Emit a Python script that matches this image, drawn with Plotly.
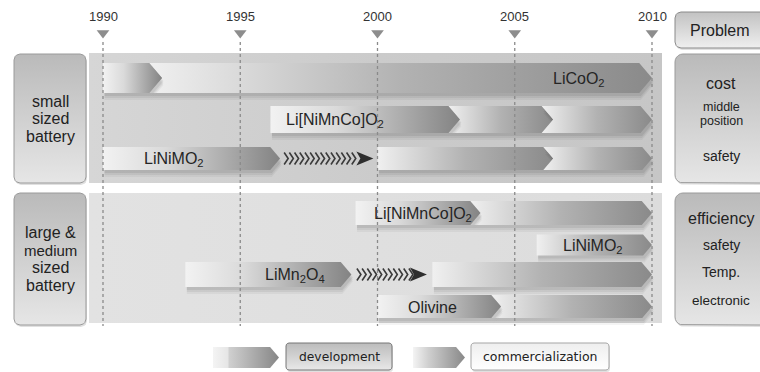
import numpy as np
import plotly.graph_objects as go

# ---------------- data ----------------
years = [1990, 1995, 2000, 2005, 2010]
groups = ["small\nsized\nbattery", "large &\nmedium\nsized\nbattery"]
materials = ["LiCoO<sub>2</sub>", "Li[NiMnCo]O<sub>2</sub>", "LiNiMO<sub>2</sub>",
             "Li[NiMnCo]O<sub>2</sub>", "LiNiMO<sub>2</sub>", "LiMn<sub>2</sub>O<sub>4</sub>", "Olivine"]
row_group = [0, 0, 0, 1, 1, 1, 1]
dev_start = [1990.0, 1996.1, 1990.0, 1999.2, None, 1993.0, 2000.0]
dev_end = [1992.15, 2003.0, 1996.45, 2003.75, None, 1999.05, 2004.5]
transfer_start = [None, None, 1996.6, None, None, 1999.25, None]
transfer_end = [None, None, 1999.85, None, None, 2001.8, None]
comm_start = [1992.15, 2003.0, 2000.0, 2003.75, 2005.8, 2002.0, 2004.5]
comm_breaks = [[], [2006.4], [2006.4], [], [], [], []]
comm_end = 2010.0
problems = [["cost", "middle\nposition", "safety"],
            ["efficiency", "safety", "Temp.", "electronic"]]
legend_labels = ["development", "commercialization"]

# ---------------- layout constants (pixels) ----------------
W, H = 760, 372
PX_1990, PX_PER_YEAR = 103.0, 27.45
row_y = [78, 119.5, 158.5, 213, 245, 274.5, 306.5]
row_h = [15, 13.5, 11.5, 12, 10.5, 12.5, 11.5]
label_x = [2007.34, 1998.45, 1992.6, 2001.65, 2007.85, 1997.0, 2002.0]
panel_y = [(53, 183), (193, 323)]
side_y = [(54, 183), (193, 325)]
problem_y = [[83, 114, 156], [218, 245, 272, 300]]
problem_size = [[16, 12.5, 14], [16, 14, 14, 13.5]]


def X(px):
    return 1990 + (px - PX_1990) / PX_PER_YEAR


def D(px):
    return px / PX_PER_YEAR


FONT = "Liberation Sans, Arial, sans-serif"
DEV_SCALE = [[0, "#f2f2f2"], [0.35, "#dadada"], [1, "#838383"]]
COMM_SCALE = [[0, "#f0f0f0"], [0.5, "#b2b2b2"], [1, "#8a8a8a"]]

fig = go.Figure()


def poly(xs, ys, color=None, scale=None, direction="horizontal", line=None):
    kw = dict(x=list(xs), y=list(ys), mode="lines", fill="toself",
              hoverinfo="skip", showlegend=False,
              line=line or dict(width=0, color="rgba(0,0,0,0)"))
    if scale is not None:
        kw["fillgradient"] = dict(type=direction, colorscale=scale)
        kw["fillcolor"] = scale[-1][1]
    else:
        kw["fillcolor"] = color
    fig.add_trace(go.Scatter(**kw))


def arrow_pts(x0, x1, yc, h, notch):
    d = D(h * 0.85)
    xs = [x0, x1 - d, x1, x1 - d, x0, x0 + (d if notch else 0), x0]
    ys = [yc - h, yc - h, yc, yc + h, yc + h, yc, yc - h]
    return xs, ys


def arrow(x0, x1, yc, h, scale, notch=False, shadow=True):
    xs, ys = arrow_pts(x0, x1, yc, h, notch)
    if shadow:
        for k, a in [(7, 0.05), (5, 0.07), (3, 0.09)]:
            poly([x + D(1.5) for x in xs], [y + k for y in ys], color=f"rgba(40,40,40,{a})")
    poly(xs, ys, scale=scale)


def rounded(px0, px1, y0, y1, r=6, n=6):
    xs, ys = [], []
    corners = [(px1 - r, y0 + r, -90, 0), (px1 - r, y1 - r, 0, 90),
               (px0 + r, y1 - r, 90, 180), (px0 + r, y0 + r, 180, 270)]
    for cx, cy, a0, a1 in corners:
        for t in np.linspace(np.radians(a0), np.radians(a1), n):
            xs.append(X(cx + r * np.cos(t)))
            ys.append(cy + r * np.sin(t))
    xs.append(xs[0])
    ys.append(ys[0])
    return xs, ys


def box(px0, px1, y0, y1, scale, border, r=6, shadow=True):
    if shadow:
        xs, ys = rounded(px0 + 1, px1 + 1, y0 + 2, y1 + 2, r)
        poly(xs, ys, color="rgba(0,0,0,0.12)")
    xs, ys = rounded(px0, px1, y0, y1, r)
    poly(xs, ys, scale=scale, direction="vertical", line=dict(width=1, color=border))


def text(x, y, s, size=14, color="#222", font=FONT):
    fig.add_annotation(x=x, y=y, xref="x", yref="y", text=s, showarrow=False,
                       font=dict(family=font, size=size, color=color),
                       xanchor="center", yanchor="middle")


# panels
poly([X(89), X(662), X(662), X(89), X(89)],
     [panel_y[0][0], panel_y[0][0], panel_y[0][1], panel_y[0][1], panel_y[0][0]],
     scale=[[0, "#d6d6d6"], [0.5, "#cbcbcb"], [1, "#c6c6c6"]])
poly([X(89), X(662), X(662), X(89), X(89)],
     [panel_y[1][0], panel_y[1][0], panel_y[1][1], panel_y[1][1], panel_y[1][0]],
     scale=[[0, "#e2e2e2"], [1, "#dcdcdc"]])

# side boxes
SIDE_SCALE = [[0, "#e6e6e6"], [1, "#bababa"]]
for gi, (y0, y1) in enumerate(side_y):
    box(14, 86, y0, y1, SIDE_SCALE, "#9a9a9a")
    box(675, 768, y0, y1, SIDE_SCALE, "#9a9a9a", r=8)
    lines = groups[gi].split("\n")
    lh = 17.5
    top = (y0 + y1) / 2 - lh * (len(lines) - 1) / 2
    for k, ln in enumerate(lines):
        sz = 15 if ln == "medium" else 16
        text(X(50), top + k * lh, ln, size=sz)
    for k, p in enumerate(problems[gi]):
        parts = p.split("\n")
        for j, part in enumerate(parts):
            yy = problem_y[gi][k] + (j - (len(parts) - 1) / 2) * 14
            text(X(721), yy, part, size=problem_size[gi][k])
box(675, 768, 12, 48, [[0, "#efefef"], [1, "#c2c2c2"]], "#8a8a8a")
text(X(719.5), 30, "Problem", size=16)

# bars
for i in range(len(materials)):
    yc, h = row_y[i], row_h[i]
    segs = [comm_start[i]] + comm_breaks[i] + [comm_end]
    for j in range(len(segs) - 1):
        notch = j > 0 or (dev_end[i] is not None and abs(comm_start[i] - dev_end[i]) < 1e-6)
        x0 = segs[j] - (D(h * 0.85) if notch else 0)
        arrow(x0, segs[j + 1], yc, h, COMM_SCALE, notch=notch)
    if dev_start[i] is not None:
        arrow(dev_start[i], dev_end[i], yc, h, DEV_SCALE)
    if transfer_start[i] is not None:
        a, b = transfer_start[i], transfer_end[i]
        head = D(17)
        cx, cy = [], []
        for x in np.arange(a, b - head, D(5.2)):
            cx += [x, x + D(4), x, None]
            cy += [yc - 6, yc, yc + 6, None]
        fig.add_trace(go.Scatter(x=cx, y=cy, mode="lines", hoverinfo="skip", showlegend=False,
                                 line=dict(color="#3a3a3a", width=1.6)))
        poly([b - head, b, b - head, b - head + D(4), b - head],
             [yc - 7, yc, yc + 7, yc, yc - 7], color="#2e2e2e")
    text(label_x[i], yc + 1, materials[i], size=16, color="#252525")

# year guides
for yr in years:
    fig.add_trace(go.Scatter(x=[yr, yr], y=[42, 326], mode="lines", hoverinfo="skip",
                             showlegend=False, line=dict(color="#8a8a8a", width=1.3, dash="dot")))
fig.add_trace(go.Scatter(x=years, y=[33] * len(years), mode="markers", hoverinfo="skip",
                         showlegend=False,
                         marker=dict(symbol="triangle-down", size=11, color="#8d8d8d")))
for yr in years:
    text(yr, 16, str(yr), size=13, color="#333333")

# legend
arrow(X(213), X(279), 357.5, 10.5,
      [[0, "#f4f4f4"], [0.22, "#e6e6e6"], [0.25, "#cfcfcf"], [1, "#868686"]], shadow=False)
box(286, 392, 343, 370, [[0, "#e8e8e8"], [1, "#bcbcbc"]], "#777777", r=3)
text(X(339), 356.5, legend_labels[0], size=12.3, font="DejaVu Sans, sans-serif")
arrow(X(413), X(465), 357.5, 10.5,
      [[0, "#f4f4f4"], [0.3, "#cfcfcf"], [1, "#888888"]], shadow=False)
box(471, 609, 343, 370, [[0, "#ffffff"], [1, "#eeeeee"]], "#a5a5a5", r=3)
text(X(540), 356.5, legend_labels[1], size=12.5, font="DejaVu Sans, sans-serif")

fig.update_layout(
    width=W, height=H, margin=dict(l=0, r=0, t=0, b=0),
    paper_bgcolor="white", plot_bgcolor="white", showlegend=False,
    xaxis=dict(range=[X(0), X(W)], visible=False, fixedrange=True),
    yaxis=dict(range=[H, 0], visible=False, fixedrange=True),
)
fig.write_html("out.html")
